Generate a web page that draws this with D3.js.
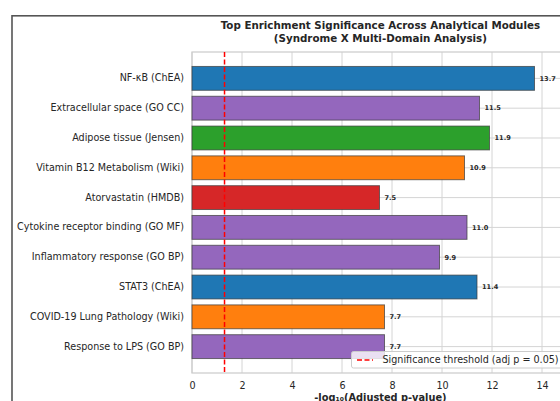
<!DOCTYPE html>
<html>
<head>
<meta charset="utf-8">
<script src="https://cdn.jsdelivr.net/npm/d3@7"></script>
<style>
  html, body { margin: 0; padding: 0; background: #fff; }
  svg { display: block; font-family: "DejaVu Sans", sans-serif; }
</style>
</head>
<body>
<svg id="chart" width="560" height="401"></svg>
<script>
// Enrichment terms, top to bottom
const terms = [
  "NF-κB (ChEA)",
  "Extracellular space (GO CC)",
  "Adipose tissue (Jensen)",
  "Vitamin B12 Metabolism (Wiki)",
  "Atorvastatin (HMDB)",
  "Cytokine receptor binding (GO MF)",
  "Inflammatory response (GO BP)",
  "STAT3 (ChEA)",
  "COVID-19 Lung Pathology (Wiki)",
  "Response to LPS (GO BP)"
];
// -log10(adjusted p-value) for each term
const scores = [13.7, 11.5, 11.9, 10.9, 7.5, 11.0, 9.9, 11.4, 7.7, 7.7];
// Analytical module each term comes from
const modules = ["ChEA", "GO", "Jensen", "Wiki", "HMDB", "GO", "GO", "ChEA", "Wiki", "GO"];
const moduleNames = ["ChEA", "GO", "Jensen", "Wiki", "HMDB"];
const moduleColors = ["#1f77b4", "#9467bd", "#2ca02c", "#ff7f0e", "#d62728"];
const xTicks = [0, 2, 4, 6, 8, 10, 12, 14];
const alpha = 0.05;
const threshold = -Math.log10(alpha);

const svg = d3.select("#chart");
const plotLeft = 192, plotTop = 52, plotBottom = 373;
const xMax = 13.7 * 1.1;

const x = d3.scaleLinear().domain([0, xMax]).range([plotLeft, plotLeft + 25 * xMax]);
const y = d3.scaleBand().domain(terms).range([plotTop, plotBottom])
  .paddingInner(0.2).paddingOuter(0.485);
const color = d3.scaleOrdinal().domain(moduleNames).range(moduleColors);

const textColor = "#262626";
const gridColor = "#d4d4d4";

// figure frame
svg.append("rect")
  .attr("x", 12).attr("y", 15.8).attr("width", 700).attr("height", 500)
  .attr("fill", "none").attr("stroke", "#555").attr("stroke-width", 1.6);

// grid
const grid = svg.append("g");
grid.selectAll("line.v").data(xTicks).join("line")
  .attr("x1", d => x(d)).attr("x2", d => x(d))
  .attr("y1", plotTop).attr("y2", plotBottom)
  .attr("stroke", gridColor).attr("stroke-width", 1);
grid.selectAll("line.h").data(terms).join("line")
  .attr("x1", plotLeft).attr("x2", x.range()[1])
  .attr("y1", d => y(d) + y.bandwidth() / 2).attr("y2", d => y(d) + y.bandwidth() / 2)
  .attr("stroke", gridColor).attr("stroke-width", 1);

// frame of the axes
svg.append("rect")
  .attr("x", plotLeft).attr("y", plotTop)
  .attr("width", x.range()[1] - plotLeft).attr("height", plotBottom - plotTop)
  .attr("fill", "none").attr("stroke", "#cccccc").attr("stroke-width", 1.25);

// bars
svg.append("g").selectAll("rect").data(terms).join("rect")
  .attr("x", x(0))
  .attr("y", d => y(d))
  .attr("width", (d, i) => x(scores[i]) - x(0))
  .attr("height", y.bandwidth())
  .attr("fill", (d, i) => color(modules[i]))
  .attr("stroke", "#3a3a3a").attr("stroke-opacity", 0.7).attr("stroke-width", 1);

// value labels
svg.append("g").selectAll("text").data(terms).join("text")
  .attr("x", (d, i) => x(scores[i] + 0.2))
  .attr("y", d => y(d) + y.bandwidth() / 2)
  .attr("dy", "0.35em")
  .attr("font-size", 6.6).attr("font-weight", "bold").attr("fill", textColor)
  .text((d, i) => scores[i].toFixed(1));

// significance threshold
svg.append("line")
  .attr("x1", x(threshold)).attr("x2", x(threshold))
  .attr("y1", plotTop).attr("y2", plotBottom)
  .attr("stroke", "red").attr("stroke-width", 1.5).attr("stroke-dasharray", "5,2.5");

// y axis
const yAxis = svg.append("g").attr("transform", `translate(${plotLeft},0)`)
  .call(d3.axisLeft(y).tickSize(0).tickPadding(8));
yAxis.select(".domain").remove();
yAxis.selectAll("text").attr("font-size", 9.6).attr("fill", textColor)
  .attr("font-family", "DejaVu Sans");

// x axis
const xAxis = svg.append("g").attr("transform", `translate(0,${plotBottom})`)
  .call(d3.axisBottom(x).tickValues(xTicks).tickSize(0).tickPadding(9).tickFormat(d3.format("d")));
xAxis.select(".domain").remove();
xAxis.selectAll("text").attr("font-size", 9.6).attr("fill", textColor)
  .attr("font-family", "DejaVu Sans");

const cx = (plotLeft + x.range()[1]) / 2;

// axis title
svg.append("text")
  .attr("x", cx).attr("y", 401)
  .attr("text-anchor", "middle")
  .attr("font-size", 9.8).attr("font-weight", "bold").attr("fill", textColor)
  .text("-log₁₀(Adjusted p-value)");

// chart title
const title = svg.append("text")
  .attr("text-anchor", "middle")
  .attr("font-size", 10.3).attr("font-weight", "bold").attr("fill", textColor);
title.append("tspan").attr("x", cx).attr("y", 29)
  .text("Top Enrichment Significance Across Analytical Modules");
title.append("tspan").attr("x", cx).attr("y", 41.5)
  .text("(Syndrome X Multi-Domain Analysis)");

// legend
const lg = svg.append("g").attr("transform", "translate(351.5,351.5)");
lg.append("rect")
  .attr("width", 212).attr("height", 16.5).attr("rx", 2)
  .attr("fill", "white").attr("fill-opacity", 0.8)
  .attr("stroke", "#cccccc").attr("stroke-width", 1);
lg.append("line")
  .attr("x1", 5.5).attr("x2", 21.5).attr("y1", 8.5).attr("y2", 8.5)
  .attr("stroke", "red").attr("stroke-width", 1.5).attr("stroke-dasharray", "5,2.5");
lg.append("text")
  .attr("x", 31).attr("y", 8.5).attr("dy", "0.35em")
  .attr("font-size", 9.6).attr("fill", textColor)
  .text(`Significance threshold (adj p = ${alpha.toFixed(2)})`);
</script>
</body>
</html>
